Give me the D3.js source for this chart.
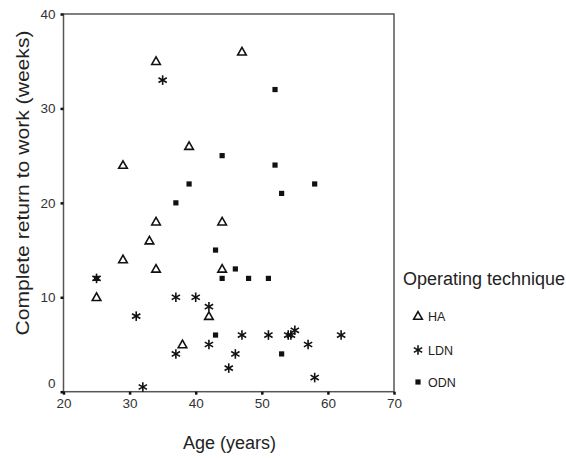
<!DOCTYPE html>
<html>
<head>
<meta charset="utf-8">
<script src="https://cdn.jsdelivr.net/npm/d3@7"></script>
<style>
html,body{margin:0;padding:0;background:#fff;}
svg{display:block;font-family:"Liberation Sans",Arial,Helvetica,sans-serif;}
</style>
</head>
<body>
<svg id="chart" width="566" height="458"></svg>
<script>
const xTicks = [20, 30, 40, 50, 60, 70];
const yTicks = [0, 10, 20, 30, 40];
const seriesNames = ["HA", "LDN", "ODN"];
const haAge   = [34, 39, 29, 47, 34, 44, 33, 29, 34, 44, 25, 42, 38];
const haWeeks = [35, 26, 24, 36, 18, 18, 16, 14, 13, 13, 10, 8, 5];
const ldnAge   = [35, 37, 40, 42, 31, 42, 37, 46, 45, 32, 47, 51, 54, 54.4, 55, 57, 62, 58, 25];
const ldnWeeks = [33, 10, 10, 9, 8, 5, 4, 4, 2.5, 0.5, 6, 6, 6, 6, 6.5, 5, 6, 1.5, 12];
const odnAge   = [44, 39, 52, 52, 58, 53, 37, 43, 46, 44, 25, 43, 48, 51, 53];
const odnWeeks = [25, 22, 32, 24, 22, 21, 20, 15, 13, 12, 12, 6, 12, 12, 4];

(function () {
const svg = d3.select("#chart");
const pLeft = 63.5, pRight = 394, pTop = 14, pBottom = 391.7;
const x = d3.scaleLinear().domain([20, 70]).range([pLeft, pRight]);
const y = d3.scaleLinear().domain([0, 40]).range([pBottom, pTop]);
const axisColor = "#555";

// frame
svg.append("rect").attr("x", pLeft).attr("y", pTop)
  .attr("width", pRight - pLeft).attr("height", pBottom - pTop)
  .attr("fill", "none").attr("stroke", axisColor).attr("stroke-width", 1.5);

// axes
const xAxis = svg.append("g").attr("transform", `translate(0,${pBottom})`)
  .call(d3.axisBottom(x).tickValues(xTicks).tickSize(3).tickPadding(4).tickFormat(d3.format("d")));
const yAxis = svg.append("g").attr("transform", `translate(${pLeft},0)`)
  .call(d3.axisLeft(y).tickValues(yTicks).tickSize(3).tickPadding(5).tickFormat(d3.format("d")));
[xAxis, yAxis].forEach(a => {
  a.select(".domain").remove();
  a.selectAll(".tick line").attr("stroke", "#111").attr("stroke-width", 2.5);
  a.selectAll(".tick text").attr("fill", "#333").style("font-size", "13.5px")
    .style("font-family", '"Liberation Sans",Arial,sans-serif');
});
// the "0" label sits slightly above the corner, as in the reference
yAxis.selectAll(".tick").filter(d => d === 0).select("text").attr("dy", "-0.3em");

// axis titles
svg.append("text").attr("x", 229.5).attr("y", 449).attr("text-anchor", "middle")
  .style("font-size", "18px").attr("fill", "#222").text("Age (years)");
svg.append("text").attr("transform", "translate(29,183) rotate(-90)")
  .attr("text-anchor", "middle").style("font-size", "18px").attr("fill", "#222")
  .attr("textLength", 305).attr("lengthAdjust", "spacingAndGlyphs")
  .text("Complete return to work (weeks)");

// marker drawers
function drawTriangle(g, cx, cy) {
  const s = 4.3;
  g.append("path")
    .attr("d", `M${cx},${cy - s}L${cx + s},${cy + s * 0.75}L${cx - s},${cy + s * 0.75}Z`)
    .attr("fill", "none").attr("stroke", "#111").attr("stroke-width", 1.6);
}
function drawStar(g, cx, cy) {
  const r = 4.8;
  [90, 30, 150].forEach(a => {
    const dx = r * Math.cos(a * Math.PI / 180), dy = r * Math.sin(a * Math.PI / 180);
    g.append("line").attr("x1", cx - dx).attr("y1", cy - dy).attr("x2", cx + dx).attr("y2", cy + dy)
      .attr("stroke", "#111").attr("stroke-width", 1.6);
  });
}
function drawSquare(g, cx, cy) {
  const s = 5.2;
  g.append("rect").attr("x", cx - s / 2).attr("y", cy - s / 2).attr("width", s).attr("height", s)
    .attr("fill", "#111");
}
const drawers = { HA: drawTriangle, LDN: drawStar, ODN: drawSquare };
const data = {
  HA: haAge.map((a, i) => [a, haWeeks[i]]),
  LDN: ldnAge.map((a, i) => [a, ldnWeeks[i]]),
  ODN: odnAge.map((a, i) => [a, odnWeeks[i]])
};

const pts = svg.append("g");
seriesNames.forEach(name => {
  const g = pts.append("g").attr("class", "series-" + name);
  data[name].forEach(d => drawers[name](g, x(d[0]), y(d[1])));
});

// legend
const lg = svg.append("g");
lg.append("text").attr("x", 403).attr("y", 285).style("font-size", "18px").attr("fill", "#222")
  .text("Operating technique");
const legendY = [316, 350, 382];
seriesNames.forEach((name, i) => {
  drawers[name](lg, 418, legendY[i]);
  lg.append("text").attr("x", 428).attr("y", legendY[i] + 4.5).style("font-size", "12.5px")
    .attr("fill", "#222").text(name);
});
})();
</script>
</body>
</html>
